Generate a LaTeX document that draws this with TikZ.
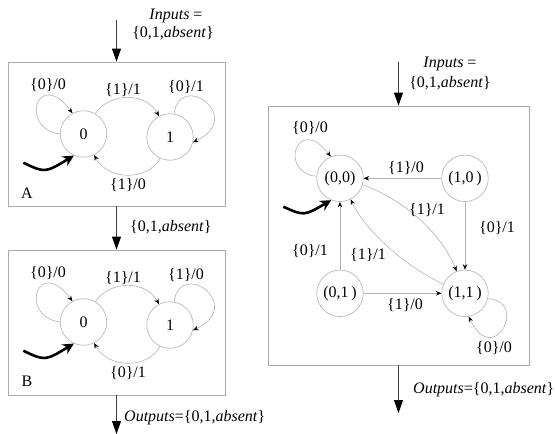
\documentclass[tikz,border=0pt]{standalone}
\usepackage{fontspec}
\setmainfont{Liberation Serif}
\usetikzlibrary{arrows.meta,calc}

\tikzset{
  fsm/.style={circle, draw=gray!55, line width=0.7pt, minimum size=46.5pt, inner sep=0pt},
  frame/.style={draw=gray!65, line width=0.8pt, inner sep=0pt},
  trans/.style={draw=gray!60, line width=0.6pt, -{Stealth[length=5.5pt,width=4.5pt,black]}},
  flow/.style={draw=black!75, line width=0.9pt, -{Triangle[length=13pt,width=9pt,black]}},
  startarrow/.style={line width=2.6pt, -{Stealth[length=11pt,width=11pt]}},
  lbl/.style={inner sep=0pt},
}

% Two-state machine: #1 name prefix, #2 vertical offset, #3 self-loop on 0,
% #4 upper arc 0->1, #5 self-loop on 1, #6 lower arc 1->0, #7 corner letter
\newcommand\twostatefsm[7]{%
  \begin{scope}[shift={(0,#2)}]
    \node[fsm] (#1z) at (83.5,134) {0};
    \node[fsm] (#1o) at (170,137) {1};
    \draw[trans] (#1z.180) .. controls (18,128) and (38,67) .. (#1z.118);
    \draw[trans] (#1z.60) .. controls (110,92) and (146,92) .. (#1o.118);
    \draw[trans] (#1o.80) .. controls (180,70) and (246,117) .. (#1o.-13);
    \draw[trans] (#1o.-115) .. controls (148,181) and (108,181) .. (#1z.-63);
    \coordinate (#1init) at (23.3,162.7);
    \draw[startarrow] (#1init) .. controls (45,173) .. (#1z.-114);
    \node[lbl] (#1la) at (48,85) {#3};
    \node[lbl] (#1lb) at (123,90) {#4};
    \node[lbl] (#1lc) at (186,87) {#5};
    \node[lbl] (#1ld) at (128,185) {#6};
    \node[lbl] (#1tag) at (27,193) {#7};
  \end{scope}}

\begin{document}
\begin{tikzpicture}[x=1pt, y=-1pt, font=\fontsize{16}{19}\selectfont]
  \useasboundingbox (0,0) rectangle (555,434);

  % ---- left column: machines A and B in cascade ----
  \node[frame, minimum width=217pt, minimum height=144pt] (boxA) at (116.5,134) {};
  \node[frame, minimum width=217pt, minimum height=145pt] (boxB) at (116.5,322.5) {};

  \twostatefsm{A}{0}{\{0\}/0}{\{1\}/1}{\{0\}/1}{\{1\}/0}{A}
  \twostatefsm{B}{188}{\{0\}/0}{\{1\}/1}{\{1\}/0}{\{0\}/1}{B}

  \coordinate (inL) at (116.5,20);
  \coordinate (outL) at (116.5,434);
  \draw[flow] (inL) -- (boxA.north);
  \draw[flow] (boxA.south) -- (boxB.north);
  \draw[flow] (boxB.south) -- (outL);

  \node[lbl] (inLa) at (176,16) {\textit{Inputs} =};
  \node[lbl] (inLb) at (173,33.5) {\{0,1,\textit{absent}\}};
  \node[lbl, anchor=west] (midL) at (130,227) {\{0,1,\textit{absent}\}};
  \node[lbl, anchor=west] (outLa) at (124,418) {\textit{Outputs}=\{0,1,\textit{absent}\}};

  % ---- right column: product machine ----
  \node[frame, minimum width=261pt, minimum height=259pt] (boxR) at (398.5,235.5) {};

  \node[fsm] (s00) at (340,178.3) {(0,0)};
  \node[fsm] (s10) at (465,178.3) {(1,0\,)};
  \node[fsm] (s01) at (340,293.3) {(0,1\,)};
  \node[fsm] (s11) at (465,293.3) {(1,1\,)};

  \draw[trans] (s00.175) .. controls (278,173) and (297,113) .. (s00.113);
  \draw[trans] (s10) -- (s00);
  \draw[trans] (s10) -- (s11);
  \draw[trans] (s00.-16) .. controls (400,198) and (440,230) .. (s11.111);
  \draw[trans] (s11.157) .. controls (402,265) and (363,227) .. (s00.-63);
  \draw[trans] (s01) -- (s00);
  \draw[trans] (s01) -- (s11);
  \draw[trans] (s11.-13) .. controls (529,301) and (493.7,368.9) .. (s11.-81);

  \coordinate (initR) at (283.3,206.7);
  \draw[startarrow] (initR) .. controls (304,216) .. (s00.-112);

  \node[lbl] (r1) at (310,128) {\{0\}/0};
  \node[lbl] (r2) at (406,168) {\{1\}/0};
  \node[lbl] (r3) at (427,210) {\{1\}/1};
  \node[lbl] (r4) at (497,228) {\{0\}/1};
  \node[lbl] (r5) at (310,251) {\{0\}/1};
  \node[lbl] (r6) at (368,255) {\{1\}/1};
  \node[lbl] (r7) at (405,305) {\{1\}/0};
  \node[lbl] (r8) at (494,348) {\{0\}/0};

  \coordinate (inR) at (398.5,62);
  \coordinate (outR) at (398.5,413);
  \draw[flow] (inR) -- (boxR.north);
  \draw[flow] (boxR.south) -- (outR);

  \node[lbl] (inRa) at (450,64) {\textit{Inputs} =};
  \node[lbl] (inRb) at (450,83.5) {\{0,1,\textit{absent}\}};
  \node[lbl, anchor=west] (outRa) at (413,390) {\textit{Outputs}=\{0,1,\textit{absent}\}};
\end{tikzpicture}
\end{document}
